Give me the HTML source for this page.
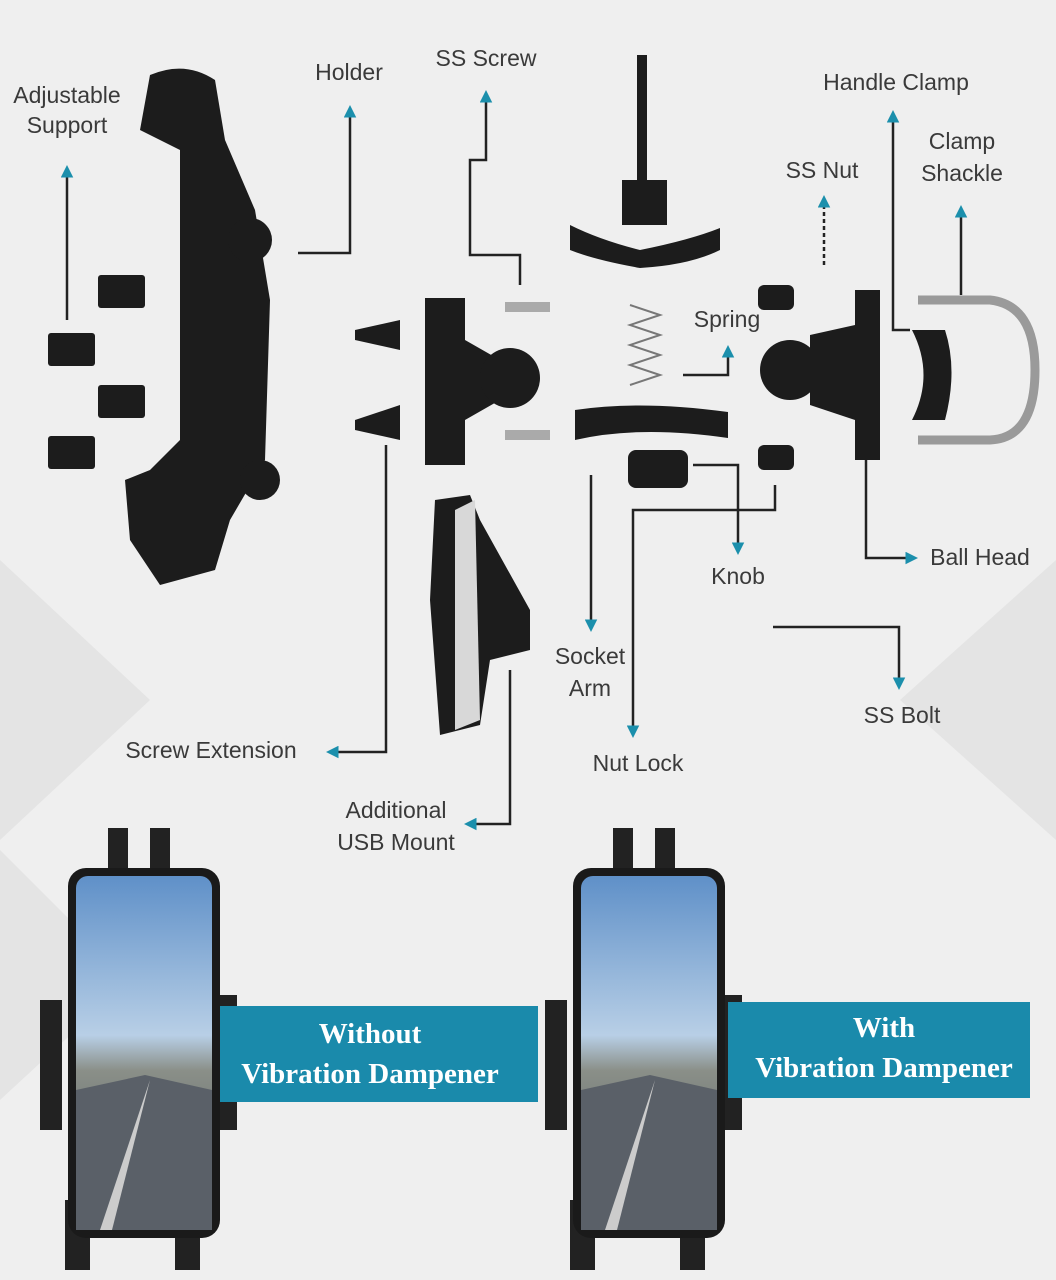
<!DOCTYPE html>
<html><head><meta charset="utf-8"><style>
html,body{margin:0;padding:0;background:#efefef}
svg{display:block}
text{font-family:"Liberation Sans",sans-serif;font-size:23px;fill:#3a3a3a}
.b{font-family:"Liberation Serif",serif;font-weight:bold;font-size:29px;fill:#fff}
</style></head><body>
<svg width="1056" height="1280" viewBox="0 0 1056 1280" xmlns="http://www.w3.org/2000/svg">
<defs>
<linearGradient id="sky" x1="0" y1="0" x2="0" y2="1"><stop offset="0" stop-color="#5f90c8"/><stop offset="0.45" stop-color="#b8cfe6"/><stop offset="0.55" stop-color="#8a8f88"/><stop offset="1" stop-color="#4a5560"/></linearGradient>
<marker id="a" viewBox="0 0 10 10" refX="2" refY="5" markerWidth="5" markerHeight="5" orient="auto"><path d="M0,0L10,5L0,10z" fill="#1b8fac"/></marker>
</defs>
<rect width="1056" height="1280" fill="#efefef"/>
<path d="M0,560 L150,700 L0,840Z M0,850 L130,980 L0,1100Z M900,700 L1056,560 L1056,840Z" fill="#e4e4e4"/>
<g fill="none" stroke="#222" stroke-width="2.5" marker-end="url(#a)">
<path d="M67,320V175"/>
<path d="M298,253H350V115"/>
<path d="M520,285V255H470V160H486V100"/>
<path d="M910,330H893V120"/>
<path d="M961,295V215"/>
<path d="M824,265V205" stroke-dasharray="4 3"/>
<path d="M683,375H728V355"/>
<path d="M866,460V558H908"/>
<path d="M693,465H738V545"/>
<path d="M591,475V622"/>
<path d="M775,485V510H633V728"/>
<path d="M773,627H899V680"/>
<path d="M386,445V752H336"/>
<path d="M510,670V824H474"/>
</g>
<g text-anchor="middle">
<text x="67" y="103">Adjustable</text><text x="67" y="133">Support</text>
<text x="349" y="80">Holder</text>
<text x="486" y="66">SS Screw</text>
<text x="896" y="90">Handle Clamp</text>
<text x="962" y="149">Clamp</text><text x="962" y="181">Shackle</text>
<text x="822" y="178">SS Nut</text>
<text x="727" y="327">Spring</text>
<text x="980" y="565">Ball Head</text>
<text x="738" y="584">Knob</text>
<text x="590" y="664">Socket</text><text x="590" y="696">Arm</text>
<text x="638" y="771">Nut Lock</text>
<text x="902" y="723">SS Bolt</text>
<text x="211" y="758">Screw Extension</text>
<text x="396" y="818">Additional</text><text x="396" y="850">USB Mount</text>
</g>
<!-- parts -->
<g fill="#1c1c1c">
<path d="M150,75 Q185,60 215,80 L225,140 L255,210 L270,300 L265,460 L230,520 L215,570 L160,585 L130,540 L125,480 L150,470 L180,440 L180,150 L160,140 L140,130Z"/>
<rect x="98" y="275" width="47" height="33" rx="3"/><rect x="48" y="333" width="47" height="33" rx="3"/>
<rect x="98" y="385" width="47" height="33" rx="3"/><rect x="48" y="436" width="47" height="33" rx="3"/>
<circle cx="250" cy="240" r="22"/><circle cx="260" cy="480" r="20"/>
<path d="M355,330L400,320V350L355,340Z M355,420L400,405V440L355,430Z"/>
<path d="M425,298H465V340L500,360V400L465,420V465H425Z"/><circle cx="510" cy="378" r="30"/>
<path d="M570,225Q600,240 640,250Q690,240 720,228L720,250Q690,265 640,268Q595,260 570,250Z"/>
<rect x="637" y="55" width="10" height="130"/><rect x="622" y="180" width="45" height="45"/>
<path d="M575,410Q640,400 728,412L728,438Q640,425 575,440Z"/>
<rect x="628" y="450" width="60" height="38" rx="8"/>
<circle cx="790" cy="370" r="30"/><path d="M810,335L855,325V290H880V460H855V420L810,405Z"/>
<rect x="758" y="285" width="36" height="25" rx="6"/><rect x="758" y="445" width="36" height="25" rx="6"/>
<path d="M912,330H945Q958,370 945,420H912Q935,375 912,330Z"/>
<path d="M435,500L470,495L480,520L530,610L530,650L490,660L480,725L440,735L430,600Z"/>
</g>
<path d="M455,510L475,500L480,720L455,730Z" fill="#d8d8d8"/>
<path d="M918,300H990Q1035,305 1035,370Q1035,438 990,440H918" fill="none" stroke="#9a9a9a" stroke-width="9"/>
<path d="M630,305L660,315L630,325L660,335L630,345L660,355L630,365L660,375L630,385" fill="none" stroke="#777" stroke-width="2"/>
<rect x="505" y="302" width="45" height="10" fill="#aaa"/><rect x="505" y="430" width="45" height="10" fill="#aaa"/>
<!-- phones -->
<g>
<path d="M108,828h20v40h-20z M150,828h20v40h-20z M65,1200h25v70h-25z M175,1200h25v70h-25z M40,1000h22v130h-22z M215,995h22v135h-22z" fill="#222"/>
<rect x="68" y="868" width="152" height="370" rx="18" fill="#1a1a1a"/>
<rect x="76" y="876" width="136" height="354" rx="12" fill="url(#sky)"/>
<path d="M76,1090L145,1075L212,1090V1230H76Z" fill="#5a6068"/><path d="M150,1080L100,1230H112Z" fill="#ccc"/>
<rect x="220" y="1006" width="318" height="96" fill="#1a8aab"/>
<text class="b" x="370" y="1043" text-anchor="middle">Without</text>
<text class="b" x="370" y="1083" text-anchor="middle">Vibration Dampener</text>
<path d="M613,828h20v40h-20z M655,828h20v40h-20z M570,1200h25v70h-25z M680,1200h25v70h-25z M545,1000h22v130h-22z M720,995h22v135h-22z" fill="#222"/>
<rect x="573" y="868" width="152" height="370" rx="18" fill="#1a1a1a"/>
<rect x="581" y="876" width="136" height="354" rx="12" fill="url(#sky)"/>
<path d="M581,1090L650,1075L717,1090V1230H581Z" fill="#5a6068"/><path d="M655,1080L605,1230H617Z" fill="#ccc"/>
<rect x="728" y="1002" width="302" height="96" fill="#1a8aab"/>
<text class="b" x="884" y="1037" text-anchor="middle">With</text>
<text class="b" x="884" y="1077" text-anchor="middle">Vibration Dampener</text>
</g>
</svg>
</body></html>
